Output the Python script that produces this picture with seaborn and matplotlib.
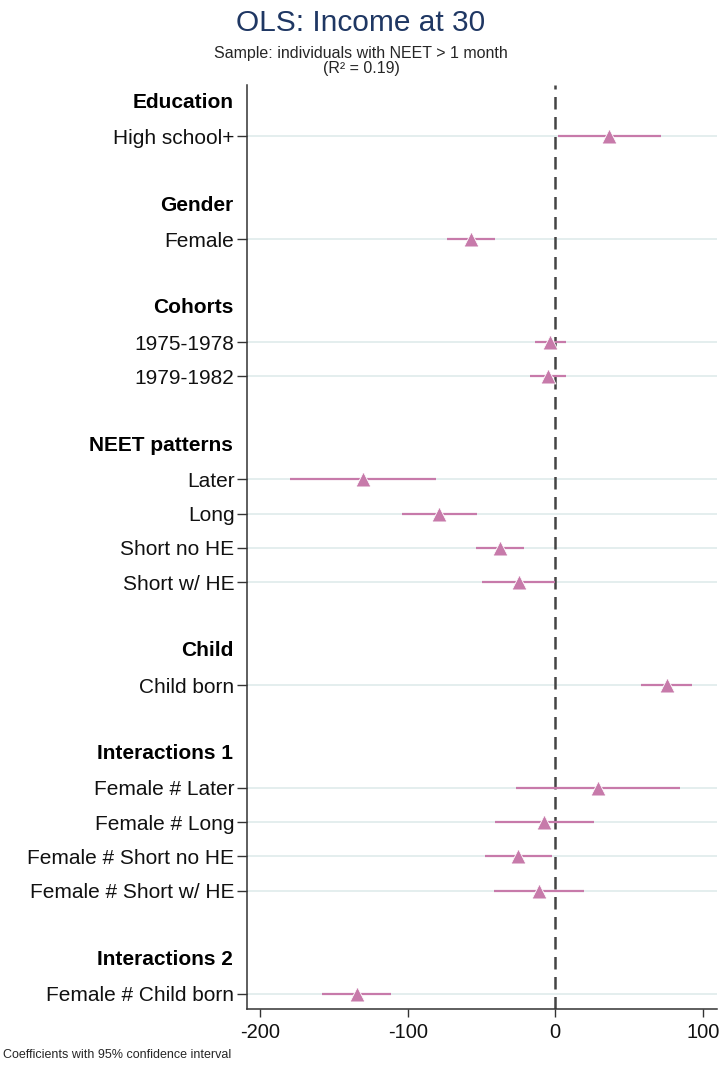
import pandas as pd
import matplotlib.pyplot as plt
import seaborn as sns

# coefficient estimates and 95% CI
groups = ["Education", "Gender", "Cohorts", "Cohorts", "NEET patterns", "NEET patterns",
          "NEET patterns", "NEET patterns", "Child", "Interactions 1", "Interactions 1",
          "Interactions 1", "Interactions 1", "Interactions 2"]
labels = ["High school+", "Female", "1975-1978", "1979-1982", "Later", "Long",
          "Short no HE", "Short w/ HE", "Child born", "Female # Later", "Female # Long",
          "Female # Short no HE", "Female # Short w/ HE", "Female # Child born"]
coef = [36.6, -57.2, -3.6, -5.2, -130.3, -78.9, -37.5, -24.4, 75.6, 28.7, -7.5, -24.9, -11.1, -134.7]
ci_lo = [2.0, -73.5, -13.8, -17.0, -180.0, -104.2, -53.8, -49.5, 57.9, -26.9, -40.7, -47.7, -41.8, -158.3]
ci_hi = [71.7, -40.9, 7.0, 7.0, -80.5, -53.3, -21.4, 0.0, 93.0, 84.6, 26.5, -2.5, 19.3, -111.0]
xticks = [-200, -100, 0, 100]

df = pd.DataFrame({"group": groups, "label": labels, "coef": coef, "lo": ci_lo, "hi": ci_hi})

# row layout: header row, items, blank row between groups
rows, headers = [], []
pos = 0
prev = None
for g in df["group"]:
    if g != prev:
        if prev is not None:
            pos += 1
        headers.append((g, pos))
        pos += 1
        prev = g
    rows.append(pos)
    pos += 1
df["row"] = rows

sns.set_theme(style="white")
plt.rcParams["font.family"] = ["Liberation Sans", "DejaVu Sans"]

pink = "#c77aaa"
fig = plt.figure(figsize=(7.22, 10.68), dpi=100)
ax = fig.add_axes([0.342, 0.0552, 0.6507, 0.8652])

for r in df["row"]:
    ax.axhline(r, color="#dde9ea", lw=1.1, zorder=0)
ax.axvline(0, color="#444444", lw=1.8, dashes=(5, 3), zorder=1)
ax.hlines(df["row"], df["lo"], df["hi"], color=pink, lw=1.6, zorder=2)
sns.scatterplot(data=df, x="coef", y="row", marker="^", s=115, color=pink,
                edgecolor="white", linewidth=0.6, ax=ax, zorder=3, legend=False)

ax.set_xlim(-209, 109.5)
ax.set_ylim(pos - 1 + 0.45, -0.5)
ax.set_xticks(xticks)
ax.set_xticklabels([str(t) for t in xticks], fontsize=14.5)
ax.set_yticks(df["row"])
ax.set_yticklabels(df["label"], fontsize=15)
for name, r in headers:
    ax.text(-0.029, r, name, transform=ax.get_yaxis_transform(), ha="right", va="center",
            fontsize=15, fontweight="bold", color="black")

ax.set_xlabel("")
ax.set_ylabel("")
for s in ["top", "right"]:
    ax.spines[s].set_visible(False)
for s in ["left", "bottom"]:
    ax.spines[s].set_color("#333333")
    ax.spines[s].set_linewidth(1.1)
ax.tick_params(axis="y", length=7, width=1, color="#333333", pad=2)
ax.tick_params(axis="x", length=6, width=1, color="#333333", pad=4)
ax.tick_params(axis="both", which="both", left=True, bottom=True, labelcolor="#111111")

fig.text(0.5, 0.978, "OLS: Income at 30", ha="center", va="center", fontsize=21.5, color="#1f3763")
fig.text(0.5, 0.950, "Sample: individuals with NEET > 1 month", ha="center", va="center", fontsize=11.5)
fig.text(0.5, 0.936, "(R² = 0.19)", ha="center", va="center", fontsize=11.5)
fig.text(0.004, 0.012, "Coefficients with 95% confidence interval", ha="left", va="center", fontsize=9)

fig.savefig("out.png", dpi=100)
